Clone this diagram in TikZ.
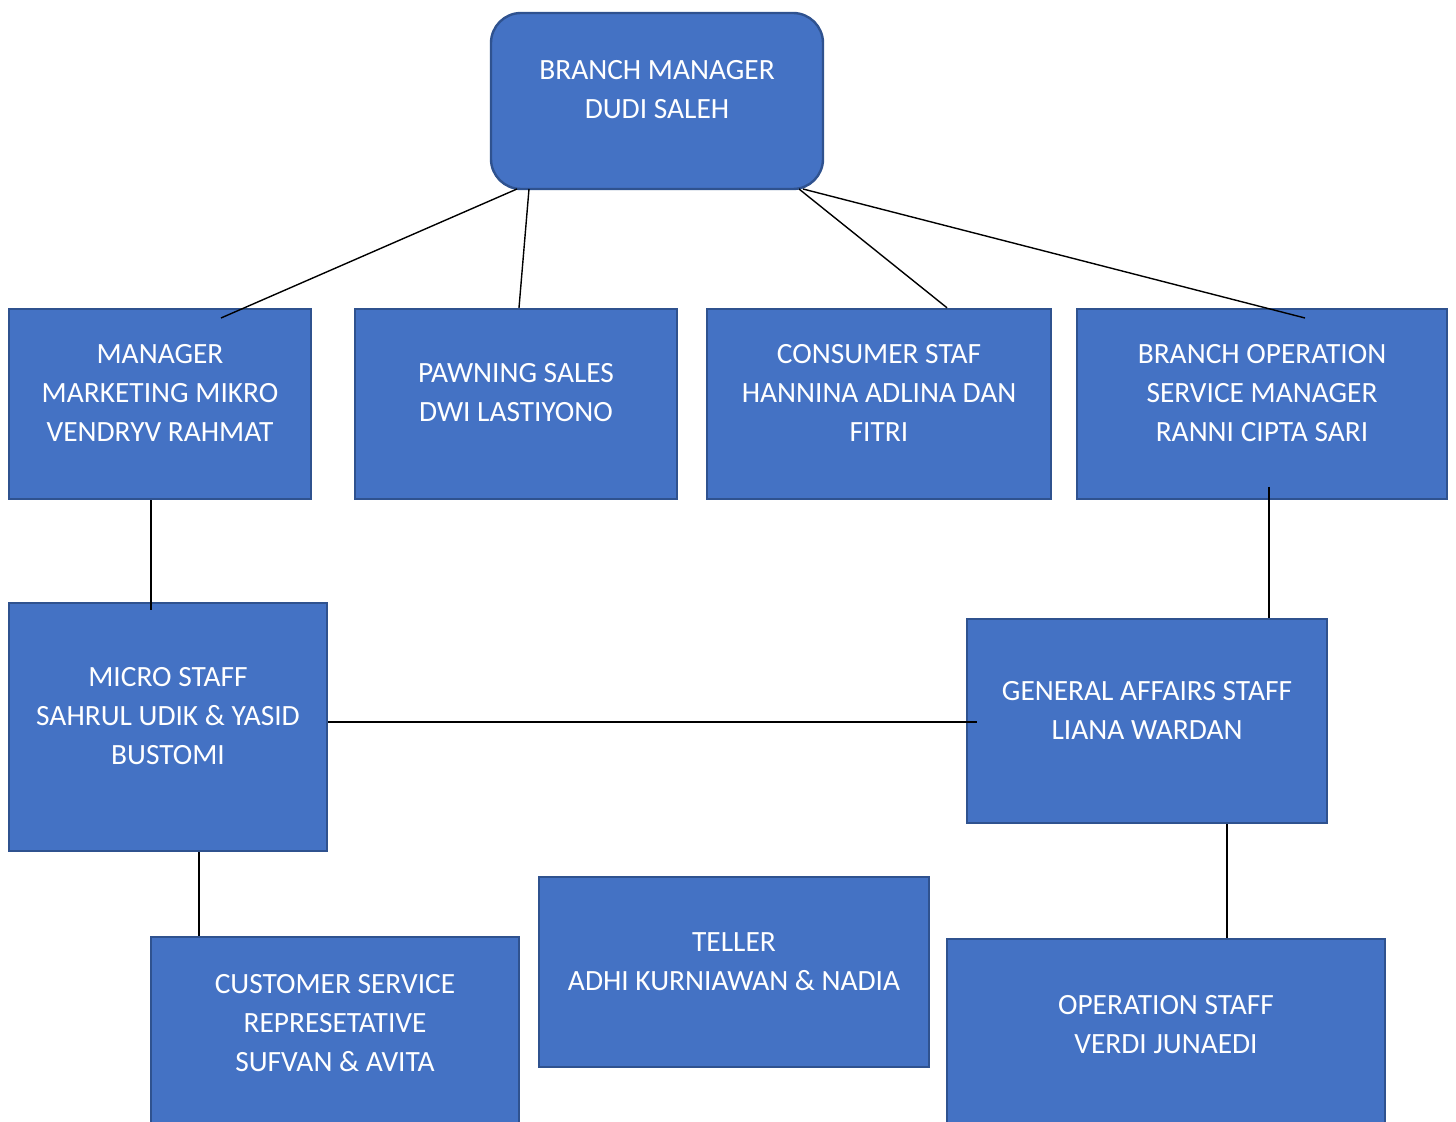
\documentclass[tikz,border=0pt]{standalone}
\usepackage{fontspec}
\setmainfont{Carlito}
\begin{document}
\begin{tikzpicture}[x=0.5pt,y=-0.5pt,
  box/.style={rectangle,fill=boxfill,draw=boxline,line width=1.2pt,inner sep=0pt},
  txt/.style={text=white,align=center,inner sep=0pt,font=\fontsize{14.7}{19.5}\selectfont},
  conn/.style={draw=black,line width=0.7pt}]
\definecolor{boxfill}{HTML}{4472C4}
\definecolor{boxline}{HTML}{2F528F}
\clip (0,0) rectangle (1456,1122);
\fill[white] (0,0) rectangle (1456,1122);
% boxes
\node[box,rounded corners=15pt,minimum width=166pt,minimum height=88pt] (bm) at (657,101) {};
\node[box,minimum width=151pt,minimum height=95pt] (mm) at (160,404) {};
\node[box,minimum width=161pt,minimum height=95pt] (ps) at (516,404) {};
\node[box,minimum width=172pt,minimum height=95pt] (cs) at (879,404) {};
\node[box,minimum width=185pt,minimum height=95pt] (bo) at (1262,404) {};
\node[box,minimum width=159pt,minimum height=124pt] (ms) at (168,727) {};
\node[box,minimum width=180pt,minimum height=102pt] (ga) at (1147,721) {};
\node[box,minimum width=184pt,minimum height=103pt] (csr) at (335,1040) {};
\node[box,minimum width=195pt,minimum height=95pt] (tl) at (734,972) {};
\node[box,minimum width=219pt,minimum height=101pt] (os) at (1166,1040) {};
% connector end points
\coordinate (bmA) at (517,189);
\coordinate (bmB) at (529,189);
\coordinate (bmC) at (799,189);
\coordinate (bmD) at (803,189);
\coordinate (mmIn) at (221,318);
\coordinate (boIn) at (1305,318);
\coordinate (cMM) at (151,0);
\coordinate (cBO) at (1269,487);
\coordinate (cMS) at (199,0);
\coordinate (cGA) at (1227,0);
\coordinate (gaIn) at (977,722);
% connectors
\draw[conn] (bmA) -- (mmIn);
\draw[conn] (bmB) -- (519,0 |- ps.north);
\draw[conn] (bmC) -- (947,0 |- cs.north);
\draw[conn] (bmD) -- (boIn);
\draw[conn] (cMM |- mm.south) -- ([yshift=-4pt]cMM |- ms.north);
\draw[conn] (cBO) -- (cBO |- ga.north);
\draw[conn] (ms.east |- gaIn) -- (gaIn);
\draw[conn] (cMS |- ms.south) -- (cMS |- csr.north);
\draw[conn] (cGA |- ga.south) -- (cGA |- os.north);
% texts
\node[txt] (bmt) at (657,90) {BRANCH MANAGER\\DUDI SALEH};
\node[txt] (mmt) at (160,393) {MANAGER\\MARKETING MIKRO\\VENDRYV RAHMAT};
\node[txt] (pst) at (516,393) {PAWNING SALES\\DWI LASTIYONO};
\node[txt] (cst) at (879,393) {CONSUMER STAF\\HANNINA ADLINA DAN\\FITRI};
\node[txt] (bot) at (1262,393) {BRANCH OPERATION\\SERVICE MANAGER\\RANNI CIPTA SARI};
\node[txt] (mst) at (168,716.5) {MICRO STAFF\\SAHRUL UDIK \& YASID\\BUSTOMI};
\node[txt] (gat) at (1147,710.5) {GENERAL AFFAIRS STAFF\\LIANA WARDAN};
\node[txt] (csrt) at (335,1023) {CUSTOMER SERVICE\\REPRESETATIVE\\SUFVAN \& AVITA};
\node[txt] (tlt) at (734,961.5) {TELLER\\ADHI KURNIAWAN \& NADIA};
\node[txt] (ost) at (1166,1024.5) {OPERATION STAFF\\VERDI JUNAEDI};
\end{tikzpicture}
\end{document}
